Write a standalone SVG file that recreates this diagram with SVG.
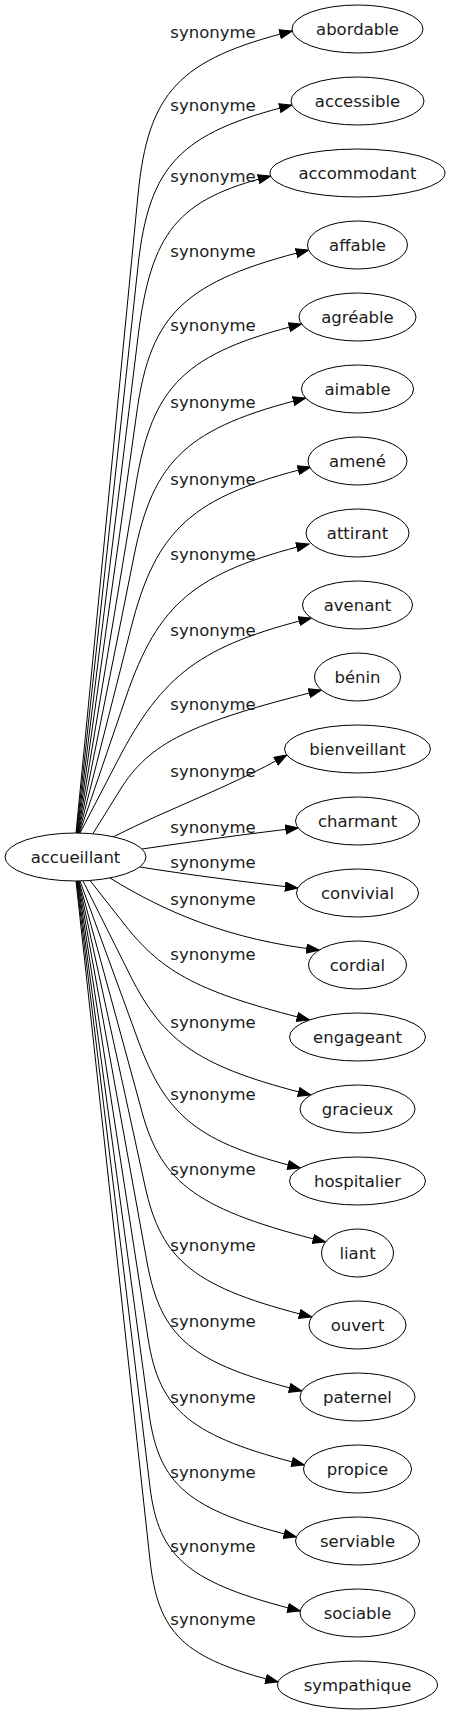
<svg xmlns="http://www.w3.org/2000/svg" width="450" height="1715" viewBox="0 0 450 1715">
<defs>
<style>
.n ellipse{fill:#fff;stroke:#000;stroke-width:1}
.n text{font-family:"DejaVu Sans",sans-serif;font-size:16.5px;fill:#1a1a1a;text-anchor:middle}
.e path{fill:none;stroke:#000;stroke-width:1;marker-end:url(#arr)}
.e text{font-family:"DejaVu Sans",sans-serif;font-size:16.5px;fill:#1a1a1a;text-anchor:middle}
</style>
<marker id="arr" markerUnits="userSpaceOnUse" markerWidth="15" markerHeight="11" refX="13" refY="5" orient="auto">
<path d="M0.5,0.5 L13,5 L0.5,9.5 z" fill="#000" stroke="#000" stroke-width="1"/>
</marker>
</defs>
<rect width="450" height="1715" fill="#fff"/>
<g id="connectors" class="e">
<path d="M76,833 L138,195 C148,92.1 178.8,59.3 292.2,31"/><text x="213" y="38">synonyme</text>
<path d="M76.5,833 L138,266 C149,165.2 179.7,133 291.9,105"/><text x="213" y="111">synonyme</text>
<path d="M77,833 L138,337 C151,231.5 177.5,199.3 270.7,176"/><text x="213" y="182">synonyme</text>
<path d="M77.5,833 L137,411 C150.8,313.1 185.2,280.9 308.6,250"/><text x="213" y="257">synonyme</text>
<path d="M78,833 L136,484 C152.4,385 185.5,353 301.5,324"/><text x="213" y="331">synonyme</text>
<path d="M78.5,833 L134,556 C153.4,459 187.8,427.5 305.6,398"/><text x="213" y="408">synonyme</text>
<path d="M79,833 L131,628 C156.2,528.8 192.1,496.6 310.5,467"/><text x="213" y="485">synonyme</text>
<path d="M79.5,833 L126,697 C158.1,603.2 194.7,572.6 309,544"/><text x="213" y="560">synonyme</text>
<path d="M80,833 L118,760 C162.8,673.8 201.5,645.4 311.3,618"/><text x="213" y="636">synonyme</text>
<path d="M93,833.5 L120,790 C149.1,743 189.4,723 321.4,690"/><text x="213" y="710">synonyme</text>
<path d="M113,837 C170,808 230,787 286.8,755"/><text x="213" y="777">synonyme</text>
<path d="M142,849 C190,842 245,834 298.2,828"/><text x="213" y="833">synonyme</text>
<path d="M140,867 C190,875 245,882 297.8,888"/><text x="213" y="868">synonyme</text>
<path d="M110,878 C165,912 230,940 319.2,950"/><text x="213" y="905">synonyme</text>
<path d="M90,880.5 L125,925 C163.3,973.6 200.2,992.6 309.5,1020"/><text x="213" y="960">synonyme</text>
<path d="M83,881 L130,975 C164.2,1043.4 200.3,1067.4 310.8,1095"/><text x="213" y="1028">synonyme</text>
<path d="M80,881 L138,1040 C166.1,1117 198.5,1142.6 300.3,1168"/><text x="213" y="1100">synonyme</text>
<path d="M79,881 L142,1112 C161.7,1184.2 198.4,1210.2 325.5,1242"/><text x="213" y="1175">synonyme</text>
<path d="M78.5,881 L145,1186 C161.5,1261.6 194.8,1287.8 311.8,1317"/><text x="213" y="1251">synonyme</text>
<path d="M78,881 L147,1262 C160.7,1337.7 191.6,1363.5 301.8,1391"/><text x="213" y="1327">synonyme</text>
<path d="M77.5,881 L148,1338 C159.3,1411.2 190.5,1436.6 304.3,1465"/><text x="213" y="1403">synonyme</text>
<path d="M77,881 L149,1413 C158.8,1485.2 188.2,1510 296.4,1537"/><text x="213" y="1478">synonyme</text>
<path d="M76.5,881 L150,1487 C158.6,1558.3 188.7,1583.1 300.2,1611"/><text x="213" y="1552">synonyme</text>
<path d="M76,881 L150,1560 C158.1,1634 183.7,1658.4 278.1,1682"/><text x="213" y="1625">synonyme</text>
</g>
<g id="node-accueillant" class="n"><ellipse cx="75.5" cy="857" rx="70.5" ry="24"/><text x="75.5" y="863">accueillant</text></g>
<g id="node-abordable" class="n"><ellipse cx="357.5" cy="29" rx="65.5" ry="24"/><text x="357.5" y="35">abordable</text></g>
<g id="node-accessible" class="n"><ellipse cx="357.5" cy="101" rx="66.5" ry="24"/><text x="357.5" y="107">accessible</text></g>
<g id="node-accommodant" class="n"><ellipse cx="357.5" cy="173" rx="87.5" ry="24"/><text x="357.5" y="179">accommodant</text></g>
<g id="node-affable" class="n"><ellipse cx="357.5" cy="245" rx="50" ry="24"/><text x="357.5" y="251">affable</text></g>
<g id="node-agreable" class="n"><ellipse cx="357.5" cy="317" rx="58.5" ry="24"/><text x="357.5" y="323">agréable</text></g>
<g id="node-aimable" class="n"><ellipse cx="357.5" cy="389" rx="56" ry="24"/><text x="357.5" y="395">aimable</text></g>
<g id="node-amene" class="n"><ellipse cx="357.5" cy="461" rx="49.5" ry="24"/><text x="357.5" y="467">amené</text></g>
<g id="node-attirant" class="n"><ellipse cx="357.5" cy="533" rx="51.5" ry="24"/><text x="357.5" y="539">attirant</text></g>
<g id="node-avenant" class="n"><ellipse cx="357.5" cy="605" rx="55" ry="24"/><text x="357.5" y="611">avenant</text></g>
<g id="node-benin" class="n"><ellipse cx="357.5" cy="677" rx="43" ry="24"/><text x="357.5" y="683">bénin</text></g>
<g id="node-bienveillant" class="n"><ellipse cx="357.5" cy="749" rx="73" ry="24"/><text x="357.5" y="755">bienveillant</text></g>
<g id="node-charmant" class="n"><ellipse cx="357.5" cy="821" rx="62" ry="24"/><text x="357.5" y="827">charmant</text></g>
<g id="node-convivial" class="n"><ellipse cx="357.5" cy="893" rx="61" ry="24"/><text x="357.5" y="899">convivial</text></g>
<g id="node-cordial" class="n"><ellipse cx="357.5" cy="965" rx="49" ry="24"/><text x="357.5" y="971">cordial</text></g>
<g id="node-engageant" class="n"><ellipse cx="357.5" cy="1037" rx="68" ry="24"/><text x="357.5" y="1043">engageant</text></g>
<g id="node-gracieux" class="n"><ellipse cx="357.5" cy="1109" rx="57.5" ry="24"/><text x="357.5" y="1115">gracieux</text></g>
<g id="node-hospitalier" class="n"><ellipse cx="357.5" cy="1181" rx="68" ry="24"/><text x="357.5" y="1187">hospitalier</text></g>
<g id="node-liant" class="n"><ellipse cx="357.5" cy="1253" rx="36" ry="24"/><text x="357.5" y="1259">liant</text></g>
<g id="node-ouvert" class="n"><ellipse cx="357.5" cy="1325" rx="48.5" ry="24"/><text x="357.5" y="1331">ouvert</text></g>
<g id="node-paternel" class="n"><ellipse cx="357.5" cy="1397" rx="57.5" ry="24"/><text x="357.5" y="1403">paternel</text></g>
<g id="node-propice" class="n"><ellipse cx="357.5" cy="1469" rx="54" ry="24"/><text x="357.5" y="1475">propice</text></g>
<g id="node-serviable" class="n"><ellipse cx="357.5" cy="1541" rx="62" ry="24"/><text x="357.5" y="1547">serviable</text></g>
<g id="node-sociable" class="n"><ellipse cx="357.5" cy="1613" rx="57.5" ry="24"/><text x="357.5" y="1619">sociable</text></g>
<g id="node-sympathique" class="n"><ellipse cx="357.5" cy="1685" rx="80" ry="24"/><text x="357.5" y="1691">sympathique</text></g>
</svg>
